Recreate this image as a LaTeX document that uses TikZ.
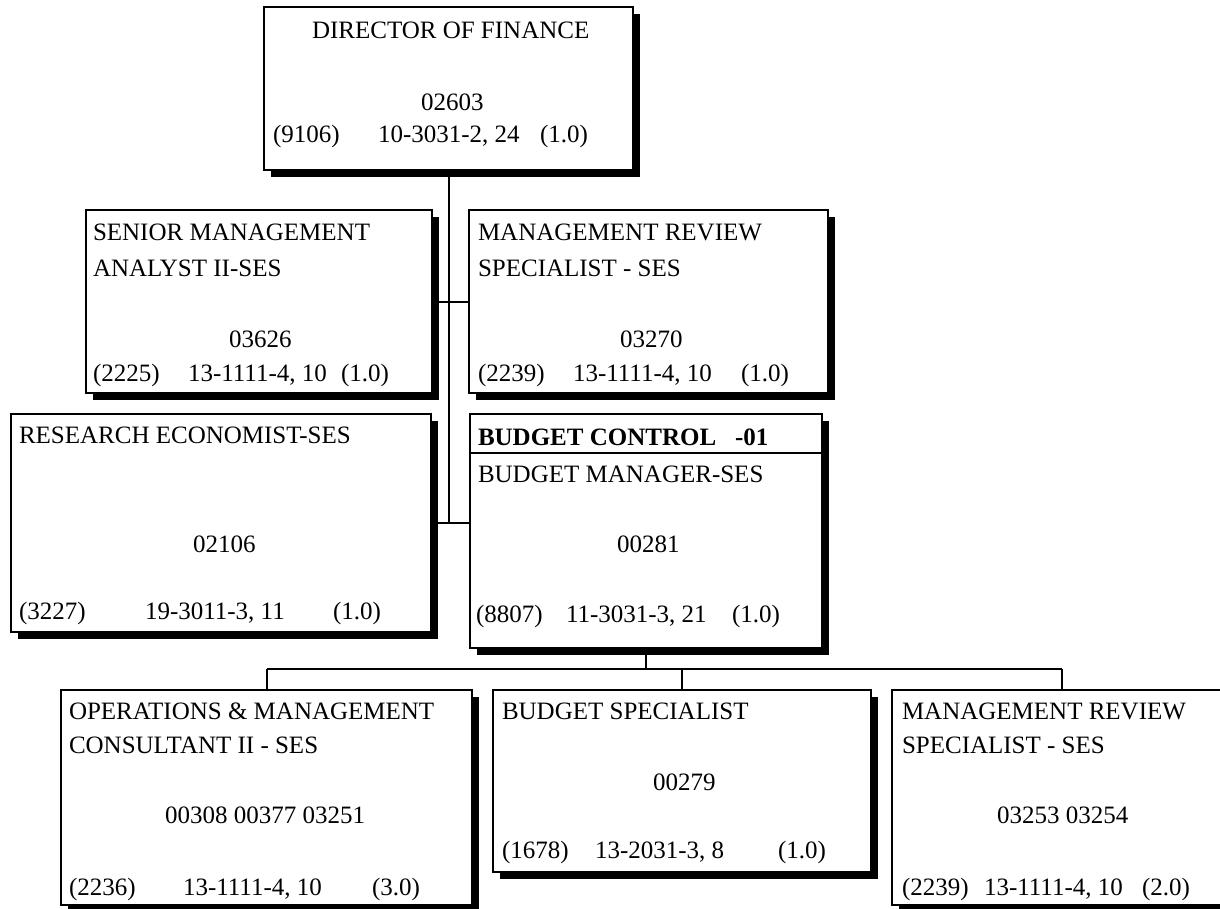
\documentclass[tikz,border=0pt]{standalone}
\usepackage{fontspec}
\setmainfont{Liberation Serif}
\usetikzlibrary{shadows,calc}

\begin{document}
\begin{tikzpicture}[
  x=1pt, y=-1pt,
  font=\fontsize{25}{30}\selectfont,
  box/.style={rectangle, draw=black, line width=1.4pt, fill=white, inner sep=0pt,
    drop shadow={shadow xshift=7pt, shadow yshift=-7pt, opacity=1, fill=black}},
  txt/.style={anchor=base west, inner sep=0pt, outer sep=0pt},
  link/.style={draw=black, line width=2pt},
  rule/.style={draw=black, line width=1.4pt}
]
\useasboundingbox (0,0) rectangle (1220,908);
\clip (0,0) rectangle (1220,908);

% ---- boxes ----
\node (dir)      [box, minimum width=369pt, minimum height=163pt] at (448.5,88.5) {};
\node (senior)   [box, minimum width=346pt, minimum height=183pt] at (259,301.5) {};
\node (mrtop)    [box, minimum width=359pt, minimum height=183pt] at (648.5,301.5) {};
\node (research) [box, minimum width=420pt, minimum height=218pt] at (221,523) {};
\node (budget)   [box, minimum width=352pt, minimum height=234pt] at (646,531) {};
\node (ops)      [box, minimum width=411pt, minimum height=215pt] at (266.5,797.5) {};
\node (bspec)    [box, minimum width=378pt, minimum height=182pt] at (682,781) {};
\node (mrs)      [box, minimum width=340pt, minimum height=215pt] at (1062,797.5) {};

% header rule of the budget control unit
\coordinate (hdr) at (0,453);
\draw[rule] (budget.west |- hdr) -- (budget.east |- hdr);

% ---- connectors ----
\draw[link] (dir.south) -- (dir.south |- research.east);
\draw[link] (senior.east) -- (mrtop.west);
\draw[link] (research.east) -- (research.east -| budget.west);
\coordinate (bus) at (0,669);
\draw[link] (budget.south) -- (budget.south |- bus);
\draw[link] (ops.north |- bus) -- (mrs.north |- bus);
\draw[link] (ops.north |- bus) -- (ops.north);
\draw[link] (bspec.north |- bus) -- (bspec.north);
\draw[link] (mrs.north |- bus) -- (mrs.north);

% ---- director ----
\node (dirA) [txt] at (312,38) {DIRECTOR OF FINANCE};
\node (dirB) [txt] at (421,110) {02603};
\node (dirC) [txt] at (273,142) {(9106)};
\node (dirD) [txt] at (378,142) {10-3031-2, 24};
\node (dirE) [txt] at (540,142) {(1.0)};

% ---- senior management analyst ----
\node (senA) [txt] at (93,240) {SENIOR MANAGEMENT};
\node (senB) [txt] at (93,276) {ANALYST II-SES};
\node (senC) [txt] at (229,347) {03626};
\node (senD) [txt] at (93,381) {(2225)};
\node (senE) [txt] at (188,381) {13-1111-4, 10};
\node (senF) [txt] at (341,381) {(1.0)};

% ---- management review specialist (upper) ----
\node (mrtA) [txt] at (478,240) {MANAGEMENT REVIEW};
\node (mrtB) [txt] at (478,276) {SPECIALIST - SES};
\node (mrtC) [txt] at (620,347) {03270};
\node (mrtD) [txt] at (478,381) {(2239)};
\node (mrtE) [txt] at (573,381) {13-1111-4, 10};
\node (mrtF) [txt] at (741,381) {(1.0)};

% ---- research economist ----
\node (resA) [txt] at (19,443) {RESEARCH ECONOMIST-SES};
\node (resB) [txt] at (193,552) {02106};
\node (resC) [txt] at (19,619) {(3227)};
\node (resD) [txt] at (145,619) {19-3011-3, 11};
\node (resE) [txt] at (333,619) {(1.0)};

% ---- budget control ----
\node (budA) [txt, font=\fontsize{25}{30}\selectfont\bfseries] at (478,445) {BUDGET CONTROL};
\node (budB) [txt, font=\fontsize{25}{30}\selectfont\bfseries] at (735,445) {-01};
\node (budC) [txt] at (478,482) {BUDGET MANAGER-SES};
\node (budD) [txt] at (617,552) {00281};
\node (budE) [txt] at (476,622) {(8807)};
\node (budF) [txt] at (566,622) {11-3031-3, 21};
\node (budG) [txt] at (732,622) {(1.0)};

% ---- operations & management consultant ----
\node (opsA) [txt] at (69,719) {OPERATIONS \& MANAGEMENT};
\node (opsB) [txt] at (69,753) {CONSULTANT II - SES};
\node (opsC) [txt] at (165,823) {00308 00377 03251};
\node (opsD) [txt] at (69,895) {(2236)};
\node (opsE) [txt] at (183,895) {13-1111-4, 10};
\node (opsF) [txt] at (372,895) {(3.0)};

% ---- budget specialist ----
\node (bspA) [txt] at (502,719) {BUDGET SPECIALIST};
\node (bspB) [txt] at (653,790) {00279};
\node (bspC) [txt] at (502,858) {(1678)};
\node (bspD) [txt] at (595,858) {13-2031-3, 8};
\node (bspE) [txt] at (778,858) {(1.0)};

% ---- management review specialist (lower) ----
\node (mrsA) [txt] at (902,719) {MANAGEMENT REVIEW};
\node (mrsB) [txt] at (902,753) {SPECIALIST - SES};
\node (mrsC) [txt] at (997,823) {03253 03254};
\node (mrsD) [txt] at (902,895) {(2239)};
\node (mrsE) [txt] at (984,895) {13-1111-4, 10};
\node (mrsF) [txt] at (1142,895) {(2.0)};
\end{tikzpicture}
\end{document}
